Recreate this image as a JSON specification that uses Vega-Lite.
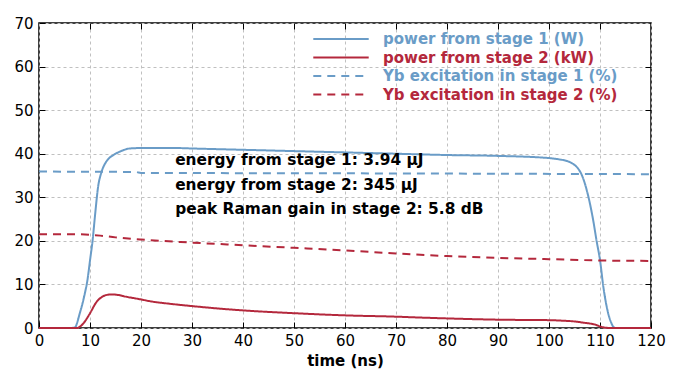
{
  "$schema": "https://vega.github.io/schema/vega-lite/v6.json",
  "width": 612,
  "height": 305,
  "autosize": {"type": "none"},
  "padding": {"left": 39, "top": 23, "right": 49, "bottom": 47},
  "background": "white",
  "config": {
    "font": "DejaVu Sans",
    "view": {"stroke": "black", "strokeWidth": 1.5},
    "axis": {
      "labelFont": "DejaVu Sans", "labelFontSize": 15, "labelColor": "black", "labelFlush": false,
      "gridColor": "#c0c0c0", "gridDash": [3, 3], "gridWidth": 1,
      "domain": false, "tickColor": "black", "tickSize": -6, "labelPadding": 11,
      "titleFont": "DejaVu Sans", "titleFontSize": 15, "titleFontWeight": "bold", "titleColor": "black"
    }
  },
  "resolve": {"axis": {"x": "independent", "y": "independent"}},
  "datasets": {
    "series": [
      {"t": 0, "v": 0, "s": "power from stage 1 (W)"},
      {"t": 6, "v": 0, "s": "power from stage 1 (W)"},
      {"t": 7, "v": 0.1, "s": "power from stage 1 (W)"},
      {"t": 8, "v": 3.4, "s": "power from stage 1 (W)"},
      {"t": 9, "v": 8, "s": "power from stage 1 (W)"},
      {"t": 9.5, "v": 11, "s": "power from stage 1 (W)"},
      {"t": 10, "v": 15.5, "s": "power from stage 1 (W)"},
      {"t": 10.5, "v": 20, "s": "power from stage 1 (W)"},
      {"t": 11, "v": 26, "s": "power from stage 1 (W)"},
      {"t": 11.6, "v": 32.5, "s": "power from stage 1 (W)"},
      {"t": 12.2, "v": 35.6, "s": "power from stage 1 (W)"},
      {"t": 12.8, "v": 37.4, "s": "power from stage 1 (W)"},
      {"t": 13.6, "v": 38.8, "s": "power from stage 1 (W)"},
      {"t": 14.6, "v": 39.7, "s": "power from stage 1 (W)"},
      {"t": 15.9, "v": 40.5, "s": "power from stage 1 (W)"},
      {"t": 17.8, "v": 41.2, "s": "power from stage 1 (W)"},
      {"t": 20, "v": 41.3, "s": "power from stage 1 (W)"},
      {"t": 27, "v": 41.3, "s": "power from stage 1 (W)"},
      {"t": 30, "v": 41.2, "s": "power from stage 1 (W)"},
      {"t": 40, "v": 40.9, "s": "power from stage 1 (W)"},
      {"t": 50, "v": 40.6, "s": "power from stage 1 (W)"},
      {"t": 60, "v": 40.3, "s": "power from stage 1 (W)"},
      {"t": 70, "v": 40.0, "s": "power from stage 1 (W)"},
      {"t": 80, "v": 39.7, "s": "power from stage 1 (W)"},
      {"t": 90, "v": 39.5, "s": "power from stage 1 (W)"},
      {"t": 100, "v": 39.0, "s": "power from stage 1 (W)"},
      {"t": 102, "v": 38.7, "s": "power from stage 1 (W)"},
      {"t": 103.6, "v": 38.3, "s": "power from stage 1 (W)"},
      {"t": 104.8, "v": 37.6, "s": "power from stage 1 (W)"},
      {"t": 105.7, "v": 36.6, "s": "power from stage 1 (W)"},
      {"t": 106.4, "v": 35.2, "s": "power from stage 1 (W)"},
      {"t": 107.2, "v": 32.5, "s": "power from stage 1 (W)"},
      {"t": 108, "v": 28.7, "s": "power from stage 1 (W)"},
      {"t": 108.7, "v": 24.5, "s": "power from stage 1 (W)"},
      {"t": 109.3, "v": 20.2, "s": "power from stage 1 (W)"},
      {"t": 110, "v": 15.6, "s": "power from stage 1 (W)"},
      {"t": 110.65, "v": 9.5, "s": "power from stage 1 (W)"},
      {"t": 111.1, "v": 6.2, "s": "power from stage 1 (W)"},
      {"t": 111.6, "v": 3.4, "s": "power from stage 1 (W)"},
      {"t": 112.1, "v": 1.5, "s": "power from stage 1 (W)"},
      {"t": 112.6, "v": 0.3, "s": "power from stage 1 (W)"},
      {"t": 113, "v": 0, "s": "power from stage 1 (W)"},
      {"t": 120, "v": 0, "s": "power from stage 1 (W)"},

      {"t": 0, "v": 0, "s": "power from stage 2 (kW)"},
      {"t": 7.5, "v": 0, "s": "power from stage 2 (kW)"},
      {"t": 8, "v": 0.3, "s": "power from stage 2 (kW)"},
      {"t": 8.8, "v": 1.2, "s": "power from stage 2 (kW)"},
      {"t": 9.6, "v": 2.6, "s": "power from stage 2 (kW)"},
      {"t": 10.3, "v": 4.0, "s": "power from stage 2 (kW)"},
      {"t": 10.9, "v": 5.3, "s": "power from stage 2 (kW)"},
      {"t": 11.5, "v": 6.3, "s": "power from stage 2 (kW)"},
      {"t": 12.2, "v": 7.0, "s": "power from stage 2 (kW)"},
      {"t": 13, "v": 7.5, "s": "power from stage 2 (kW)"},
      {"t": 14.1, "v": 7.7, "s": "power from stage 2 (kW)"},
      {"t": 15.4, "v": 7.6, "s": "power from stage 2 (kW)"},
      {"t": 17, "v": 7.2, "s": "power from stage 2 (kW)"},
      {"t": 19.8, "v": 6.6, "s": "power from stage 2 (kW)"},
      {"t": 22, "v": 6.1, "s": "power from stage 2 (kW)"},
      {"t": 24.6, "v": 5.7, "s": "power from stage 2 (kW)"},
      {"t": 29.4, "v": 5.1, "s": "power from stage 2 (kW)"},
      {"t": 35.9, "v": 4.4, "s": "power from stage 2 (kW)"},
      {"t": 40.5, "v": 4.0, "s": "power from stage 2 (kW)"},
      {"t": 50, "v": 3.4, "s": "power from stage 2 (kW)"},
      {"t": 60, "v": 2.9, "s": "power from stage 2 (kW)"},
      {"t": 70, "v": 2.6, "s": "power from stage 2 (kW)"},
      {"t": 74.7, "v": 2.4, "s": "power from stage 2 (kW)"},
      {"t": 80, "v": 2.2, "s": "power from stage 2 (kW)"},
      {"t": 90.5, "v": 1.9, "s": "power from stage 2 (kW)"},
      {"t": 100, "v": 1.8, "s": "power from stage 2 (kW)"},
      {"t": 102.3, "v": 1.7, "s": "power from stage 2 (kW)"},
      {"t": 105, "v": 1.5, "s": "power from stage 2 (kW)"},
      {"t": 106.9, "v": 1.2, "s": "power from stage 2 (kW)"},
      {"t": 109, "v": 0.8, "s": "power from stage 2 (kW)"},
      {"t": 110.6, "v": 0.15, "s": "power from stage 2 (kW)"},
      {"t": 112, "v": 0, "s": "power from stage 2 (kW)"},
      {"t": 120, "v": 0, "s": "power from stage 2 (kW)"},

      {"t": 0, "v": 35.9, "s": "Yb excitation in stage 1 (%)"},
      {"t": 19, "v": 35.8, "s": "Yb excitation in stage 1 (%)"},
      {"t": 20, "v": 35.6, "s": "Yb excitation in stage 1 (%)"},
      {"t": 60, "v": 35.5, "s": "Yb excitation in stage 1 (%)"},
      {"t": 120, "v": 35.3, "s": "Yb excitation in stage 1 (%)"},

      {"t": 0, "v": 21.5, "s": "Yb excitation in stage 2 (%)"},
      {"t": 8, "v": 21.5, "s": "Yb excitation in stage 2 (%)"},
      {"t": 10, "v": 21.4, "s": "Yb excitation in stage 2 (%)"},
      {"t": 12, "v": 21.2, "s": "Yb excitation in stage 2 (%)"},
      {"t": 15, "v": 20.8, "s": "Yb excitation in stage 2 (%)"},
      {"t": 20, "v": 20.3, "s": "Yb excitation in stage 2 (%)"},
      {"t": 30, "v": 19.6, "s": "Yb excitation in stage 2 (%)"},
      {"t": 40, "v": 19.0, "s": "Yb excitation in stage 2 (%)"},
      {"t": 50, "v": 18.4, "s": "Yb excitation in stage 2 (%)"},
      {"t": 60, "v": 17.8, "s": "Yb excitation in stage 2 (%)"},
      {"t": 70, "v": 17.1, "s": "Yb excitation in stage 2 (%)"},
      {"t": 80, "v": 16.5, "s": "Yb excitation in stage 2 (%)"},
      {"t": 90, "v": 16.1, "s": "Yb excitation in stage 2 (%)"},
      {"t": 100, "v": 15.8, "s": "Yb excitation in stage 2 (%)"},
      {"t": 110, "v": 15.5, "s": "Yb excitation in stage 2 (%)"},
      {"t": 120, "v": 15.4, "s": "Yb excitation in stage 2 (%)"}
    ],
    "notes": [
      {"t": 26.7, "v": 38.6, "label": "energy from stage 1: 3.94 µJ"},
      {"t": 26.7, "v": 32.9, "label": "energy from stage 2: 345 µJ"},
      {"t": 26.7, "v": 27.3, "label": "peak Raman gain in stage 2: 5.8 dB"}
    ]
  },
  "layer": [
    {
      "data": {"name": "series"},
      "mark": {"type": "line", "strokeWidth": 2, "interpolate": "monotone"},
      "encoding": {
        "x": {"field": "t", "type": "quantitative", "title": "time (ns)",
              "scale": {"domain": [0, 120], "nice": false},
              "axis": {"values": [0,10,20,30,40,50,60,70,80,90,100,110,120], "titlePadding": 5}},
        "y": {"field": "v", "type": "quantitative", "title": null,
              "scale": {"domain": [0, 70], "nice": false},
              "axis": {"values": [0,10,20,30,40,50,60,70], "labelPadding": 12}},
        "color": {"field": "s", "type": "nominal",
          "scale": {"domain": ["power from stage 1 (W)", "power from stage 2 (kW)", "Yb excitation in stage 1 (%)", "Yb excitation in stage 2 (%)"],
                    "range": ["#6a9cc7", "#b4283c", "#6a9cc7", "#b4283c"]},
          "legend": {"orient": "none", "legendX": 292, "legendY": 6, "title": null,
                     "symbolType": "M-3.2,0H3.2", "symbolSize": 300, "symbolStrokeWidth": 2,
                     "labelFont": "DejaVu Sans", "labelFontSize": 15, "labelFontWeight": "bold",
                     "labelLimit": 400, "rowPadding": 0.5, "labelOffset": 32,
                     "encode": {"labels": {"update": {"fill": {"signal": "indexof(datum.value, 'stage 1') >= 0 ? '#6a9cc7' : '#b4283c'"}}}}}},
        "strokeDash": {"field": "s", "type": "nominal",
          "scale": {"domain": ["power from stage 1 (W)", "power from stage 2 (kW)", "Yb excitation in stage 1 (%)", "Yb excitation in stage 2 (%)"],
                    "range": [[1, 0], [1, 0], [8, 6], [8, 6]]},
          "legend": null}
      }
    },
    {
      "data": {"name": "notes"},
      "mark": {"type": "text", "align": "left", "baseline": "middle", "font": "DejaVu Sans", "fontSize": 15.4, "fontWeight": "bold", "color": "black"},
      "encoding": {
        "x": {"field": "t", "type": "quantitative",
              "axis": {"orient": "top", "labels": false, "grid": false, "title": null, "values": [10,20,30,40,50,60,70,80,90,100,110]}},
        "y": {"field": "v", "type": "quantitative",
              "axis": {"orient": "right", "labels": false, "grid": false, "title": null, "values": [10,20,30,40,50,60]}},
        "text": {"field": "label"}
      }
    }
  ]
}
